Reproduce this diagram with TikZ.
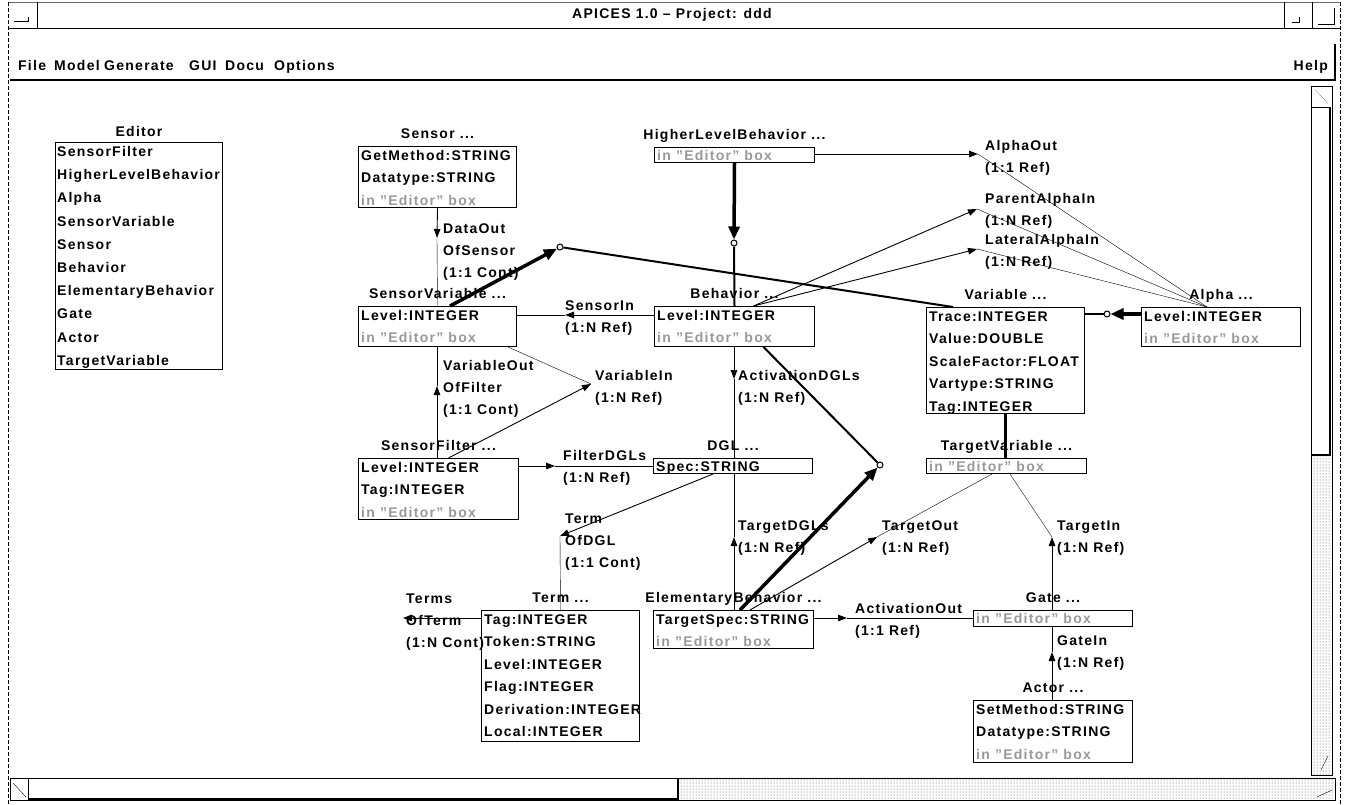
\documentclass[tikz,border=0pt]{standalone}
\usepackage{fontspec}
\setmainfont{Liberation Sans}[LetterSpace=9]
\usetikzlibrary{arrows.meta,patterns}

\newcommand\inEd{\textcolor{black!40}{in "Editor" box}}
% name, x, first baseline, step, lines
\newcommand\rows[5]{%
  \foreach \txt [count=\i] in {#5}
    {\node[row] (#1-\i) at (#2,{#3+#4*(\i-1)}) {\txt};}}

\tikzset{
  cls/.style={draw, line width=1pt, anchor=north west, inner sep=0pt},
  row/.style={anchor=base west, inner sep=0pt},
  ttl/.style={anchor=base, inner sep=0pt},
  rel/.style={line width=0.9pt, -{Triangle[length=9pt,width=6.5pt]}},
  gen/.style={line width=3.5pt, -{Triangle[length=13pt,width=11pt]}},
  sup/.style={line width=2pt},
  isa/.style={circle, draw, fill=white, line width=1pt, inner sep=0pt, minimum size=6pt},
}

\begin{document}
\begin{tikzpicture}[x=1pt, y=-1pt, font=\fontsize{14}{17}\selectfont\bfseries]
\useasboundingbox (0,0) rectangle (1345,804);
% window frame
\draw[black!60, line width=0.8pt] (8,2) -- (1340,2);
\draw[line width=1pt] (8,28) -- (1340,28);
\draw[line width=1pt] (37,2) -- (37,28);
\draw[line width=1pt] (1284,2) -- (1284,28);
\draw[line width=1pt] (1312,2) -- (1312,28);
\draw (14,21) -- (28,21) -- (28,17);
\draw (1292,22) -- (1299,22) -- (1299,17);
\draw (1318,24) -- (1334,24) -- (1334,8);
\draw[dash pattern=on 4pt off 2pt] (8,2) -- (8,804);
\draw[dash pattern=on 4pt off 2pt] (1340,2) -- (1340,804);
\node (title) at (672,15) {APICES 1.0 – Project: ddd};
%
\draw[line width=2pt] (10,80) -- (1335,80) -- (1335,44);
\node[row] (m-file) at (18,70) {File};
\node[row] (m-model) at (54,70) {Model};
\node[row] (m-gen) at (104,70) {Generate};
\node[row] (m-gui) at (189,70) {GUI};
\node[row] (m-docu) at (225,70) {Docu};
\node[row] (m-opt) at (274,70) {Options};
\node[row, anchor=base east] (m-help) at (1328,70) {Help};
%
\draw[line width=1pt] (1311,86) rectangle (1332,775);
\fill[pattern=dots, pattern color=black!70] (1312,455) rectangle (1331,774);
\draw[line width=1pt] (1312,107) -- (1331,107);
\draw[line width=1.5pt] (1330,107) -- (1330,455) -- (1312,455);
\draw[densely dotted] (1315,89) -- (1328,104);
\draw (1321,770) -- (1328,756);
%
\draw[line width=1pt] (10,778) rectangle (1335,800);
\fill[pattern=dots, pattern color=black!70] (679,779) rectangle (1334,799);
\draw (28,778) -- (28,800);
\draw[line width=1.5pt] (678,779) -- (678,799) -- (28,799);
\draw (13,783) -- (26,797);
\draw (1317,797) -- (1332,790);

% editor list
\node[cls, minimum width=167pt, minimum height=227pt] (editor) at (55,142) {};
\node[ttl] (editor-t) at ([yshift=6pt]editor.north) {Editor};
\rows{editor}{57}{156.5}{23.2}{SensorFilter,HigherLevelBehavior,Alpha,SensorVariable,Sensor,Behavior,ElementaryBehavior,Gate,Actor,TargetVariable}

% classes
\node[cls, minimum width=158pt, minimum height=61pt] (sensor) at (358,146) {};
\node[ttl] (sensor-t) at ([yshift=8pt]sensor.north) {Sensor ...};
\rows{sensor}{361}{160}{22.5}{GetMethod:STRING,Datatype:STRING,\inEd}
%
\node[cls, minimum width=160pt, minimum height=15pt] (hlb) at (654,147) {};
\node[ttl] (hlb-t) at ([yshift=8pt]hlb.north) {HigherLevelBehavior ...};
\rows{hlb}{657}{160}{22.5}{\inEd}
%
\node[cls, minimum width=158pt, minimum height=40pt] (sv) at (358,306) {};
\node[ttl] (sv-t) at ([yshift=8pt]sv.north) {SensorVariable ...};
\rows{sv}{361}{320}{22.5}{Level:INTEGER,\inEd}
%
\node[cls, minimum width=160pt, minimum height=40pt] (behavior) at (654,306) {};
\node[ttl] (behavior-t) at ([yshift=8pt]behavior.north) {Behavior ...};
\rows{behavior}{657}{320}{22.5}{Level:INTEGER,\inEd}
%
\node[cls, minimum width=158pt, minimum height=106pt] (variable) at (926,307) {};
\node[ttl] (variable-t) at ([yshift=8pt]variable.north) {Variable ...};
\rows{variable}{929}{321}{22.5}{Trace:INTEGER,Value:DOUBLE,ScaleFactor:FLOAT,Vartype:STRING,Tag:INTEGER}
%
\node[cls, minimum width=159pt, minimum height=39pt] (alpha) at (1141,307) {};
\node[ttl] (alpha-t) at ([yshift=8pt]alpha.north) {Alpha ...};
\rows{alpha}{1144}{321}{22.5}{Level:INTEGER,\inEd}
%
\node[cls, minimum width=160pt, minimum height=61pt] (sf) at (358,458) {};
\node[ttl] (sf-t) at ([yshift=8pt]sf.north) {SensorFilter ...};
\rows{sf}{361}{472}{22.5}{Level:INTEGER,Tag:INTEGER,\inEd}
%
\node[cls, minimum width=159pt, minimum height=15pt] (dgl) at (653,458) {};
\node[ttl] (dgl-t) at ([yshift=8pt]dgl.north) {DGL ...};
\rows{dgl}{656}{471}{22.5}{Spec:STRING}
%
\node[cls, minimum width=160pt, minimum height=15pt] (tv) at (926,458) {};
\node[ttl] (tv-t) at ([yshift=8pt]tv.north) {TargetVariable ...};
\rows{tv}{929}{471}{22.5}{\inEd}
%
\node[cls, minimum width=158pt, minimum height=131pt] (term) at (481,610) {};
\node[ttl] (term-t) at ([yshift=8pt]term.north) {Term ...};
\rows{term}{484}{624}{22.5}{Tag:INTEGER,Token:STRING,Level:INTEGER,Flag:INTEGER,Derivation:INTEGER,Local:INTEGER}
%
\node[cls, minimum width=160pt, minimum height=38pt] (eb) at (653,610) {};
\node[ttl] (eb-t) at ([yshift=8pt]eb.north) {ElementaryBehavior ...};
\rows{eb}{656}{624}{22.5}{TargetSpec:STRING,\inEd}
%
\node[cls, minimum width=159pt, minimum height=16pt] (gate) at (973,610) {};
\node[ttl] (gate-t) at ([yshift=8pt]gate.north) {Gate ...};
\rows{gate}{976}{623}{22.5}{\inEd}
%
\node[cls, minimum width=159pt, minimum height=62pt] (actor) at (973,700) {};
\node[ttl] (actor-t) at ([yshift=8pt]actor.north) {Actor ...};
\rows{actor}{976}{714}{22.5}{SetMethod:STRING,Datatype:STRING,\inEd}

% relation points
\coordinate (dataout) at (437,238);
\coordinate (sensorin) at (565,315);
\coordinate (aout) at (978,154);
\coordinate (pain) at (977,209);
\coordinate (lain) at (977,249);
\coordinate (alphatop) at ([xshift=66pt]alpha.north west);
\coordinate (varin) at (591,384);
\coordinate (varout) at (437,386);
\coordinate (filterdgl) at (555,466);
\coordinate (termdgl) at (560,536);
\coordinate (actdgl) at (734,379);
\coordinate (tdgl) at (734,537);
\coordinate (tout) at (877,537);
\coordinate (tin) at (1052,537);
\coordinate (actout) at (847,618);
\coordinate (gatein) at (1052,652);
\coordinate (terms) at (403,618);

% relation labels
\rows{l-dataout}{443}{233}{22}{DataOut,OfSensor,(1:1 Cont)}
\rows{l-sensorin}{565}{310}{22}{SensorIn,(1:N Ref)}
\rows{l-aout}{985}{150}{22}{AlphaOut,(1:1 Ref)}
\rows{l-pain}{985}{203}{22}{ParentAlphaIn,(1:N Ref)}
\rows{l-lain}{985}{244}{22}{LateralAlphaIn,(1:N Ref)}
\rows{l-varin}{595}{380}{22}{VariableIn,(1:N Ref)}
\rows{l-varout}{443}{370}{22}{VariableOut,OfFilter,(1:1 Cont)}
\rows{l-fdgl}{563}{460}{22}{FilterDGLs,(1:N Ref)}
\rows{l-termdgl}{565}{523}{22}{Term,OfDGL,(1:1 Cont)}
\rows{l-actdgl}{738}{380}{22}{ActivationDGLs,(1:N Ref)}
\rows{l-tdgl}{738}{530}{22}{TargetDGLs,(1:N Ref)}
\rows{l-tout}{882}{530}{22}{TargetOut,(1:N Ref)}
\rows{l-tin}{1057}{530}{22}{TargetIn,(1:N Ref)}
\rows{l-actout}{855}{613}{22}{ActivationOut,(1:1 Ref)}
\rows{l-gatein}{1057}{645}{22}{GateIn,(1:N Ref)}
\rows{l-terms}{406}{603}{22}{Terms,OfTerm,(1:N Cont)}

% relations
\draw[rel] (sensor.south) -- (dataout);
\draw (dataout) -- (sv.north);
\draw[rel] (behavior.west |- sensorin) -- (sensorin);
\draw (sensorin) -- (sv.east |- sensorin);
\draw[rel] (hlb.east |- aout) -- (aout);
\draw (aout) -- (alphatop);
\draw[rel] ([xshift=19pt]behavior.north) -- (pain);
\draw (pain) -- (alphatop);
\draw[rel] ([xshift=19pt]behavior.north) -- (lain);
\draw (lain) -- (alphatop);
\draw[rel] ([xshift=10pt]sf.north) -- (varin);
\draw ([xshift=-9pt]sv.south east) -- (varin);
\draw[rel] (sf.north -| varout) -- (varout);
\draw (varout) -- (sv.south -| varout);
\draw[rel] (sf.east |- filterdgl) -- (filterdgl);
\draw (filterdgl) -- (dgl.west |- filterdgl);
\draw[rel] ([xshift=-20pt]dgl.south) -- (termdgl);
\draw (termdgl) -- (term.north);
\draw[rel] (behavior.south -| actdgl) -- (actdgl);
\draw (actdgl) -- (dgl.north -| actdgl);
\draw[rel] (eb.north -| tdgl) -- (tdgl);
\draw (tdgl) -- (dgl.south -| tdgl);
\draw[rel] ([xshift=97pt]eb.north west) -- (tout);
\draw (tout) -- ([xshift=66pt]tv.south west);
\draw[rel] (gate.north -| tin) -- (tin);
\draw (tin) -- ([xshift=84pt]tv.south west);
\draw[rel] (eb.east |- actout) -- (actout);
\draw (actout) -- (gate.west |- actout);
\draw[rel] (actor.north -| gatein) -- (gatein);
\draw (gatein) -- (gate.south -| gatein);
\draw[rel] (term.west |- terms) -- (terms);

% inheritance
\node[isa] (c-var) at (560,247) {};
\node[isa] (c-beh) at (734,243) {};
\node[isa] (c-eb) at (880,465) {};
\node[isa] (c-alpha) at (1107,314) {};
\draw[gen] ([xshift=92pt]sv.north west) -- (c-var);
\draw[sup] (c-var) -- ([xshift=27pt]variable.north west);
\draw[gen] (hlb.south) -- (c-beh);
\draw[sup] (c-beh) -- (behavior.north);
\draw[gen] ([xshift=87pt]eb.north west) -- (c-eb);
\draw[sup] (c-eb) -- ([xshift=29pt]behavior.south);
\draw[gen] (alpha.west |- c-alpha) -- (c-alpha);
\draw[sup] (c-alpha) -- (variable.east |- c-alpha);
\draw[line width=3.5pt] (variable.south) -- (variable.south |- tv.north);
\end{tikzpicture}
\end{document}
